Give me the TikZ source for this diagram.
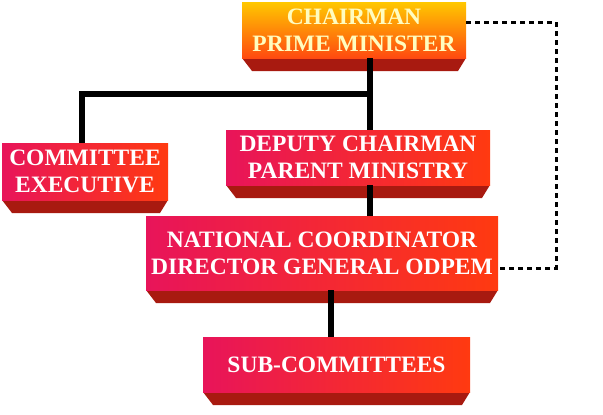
\documentclass[tikz,border=0pt]{standalone}
\usepackage{fontspec}
\setmainfont{Liberation Serif}
\definecolor{crim}{HTML}{E8145A}
\definecolor{ored}{HTML}{FF3A10}
\definecolor{ylw}{HTML}{FFC800}
\definecolor{ornr}{HTML}{FF4A10}
\definecolor{slabc}{HTML}{A81A10}
\begin{document}
\begin{tikzpicture}[x=1pt,y=-1pt,
  box/.style={draw=none,inner sep=0pt,align=center,font=\bfseries\fontsize{23.5}{27}\selectfont,text=white,
     shading=axis,left color=crim,right color=ored,shading angle=90},
  topbox/.style={box,text=yellow!25!white,top color=ylw,bottom color=ornr},
  slab/.style={fill=slabc},
  conn/.style={line width=6pt},
  dconn/.style={line width=3pt,dash pattern=on 5pt off 4pt}]
\useasboundingbox (0,0) rectangle (603,415);
\def\mkbox#1#2#3#4#5#6#7{%
  \fill[slab] (#3,#6) -- (#4,#6) -- (#4-8,#6+13) -- (#3+10,#6+13) -- cycle;
  \node[#2,minimum width={#4-#3},minimum height={#6-#5}] (#1) at ({(#3+#4)/2},{(#5+#6)/2}) {#7};}
\mkbox{chair}{topbox}{242}{466}{2}{58}{CHAIRMAN\\PRIME MINISTER}
\mkbox{dep}{box}{226}{490}{130}{185}{DEPUTY CHAIRMAN\\PARENT MINISTRY}
\mkbox{com}{box}{2}{168}{143}{200}{COMMITTEE\\EXECUTIVE}
\mkbox{nat}{box}{146}{498}{216}{290}{NATIONAL COORDINATOR\\DIRECTOR GENERAL ODPEM}
\mkbox{sub}{box}{203}{470}{337}{392}{SUB-COMMITTEES}
\coordinate (j) at (370,94);
\draw[conn] (chair.south -| j) -- (dep.north -| j);
\draw[conn] (j) -| (com.north -| 82,0);
\draw[conn] (dep.south -| j) -- (nat.north -| j);
\draw[conn] (nat.south -| 331,0) -- (sub.north -| 331,0);
\coordinate (d1) at (556,22);
\draw[dconn] (chair.east |- d1) -- (d1) -- (556,268) -- (nat.east |- 0,268);
\end{tikzpicture}
\end{document}
